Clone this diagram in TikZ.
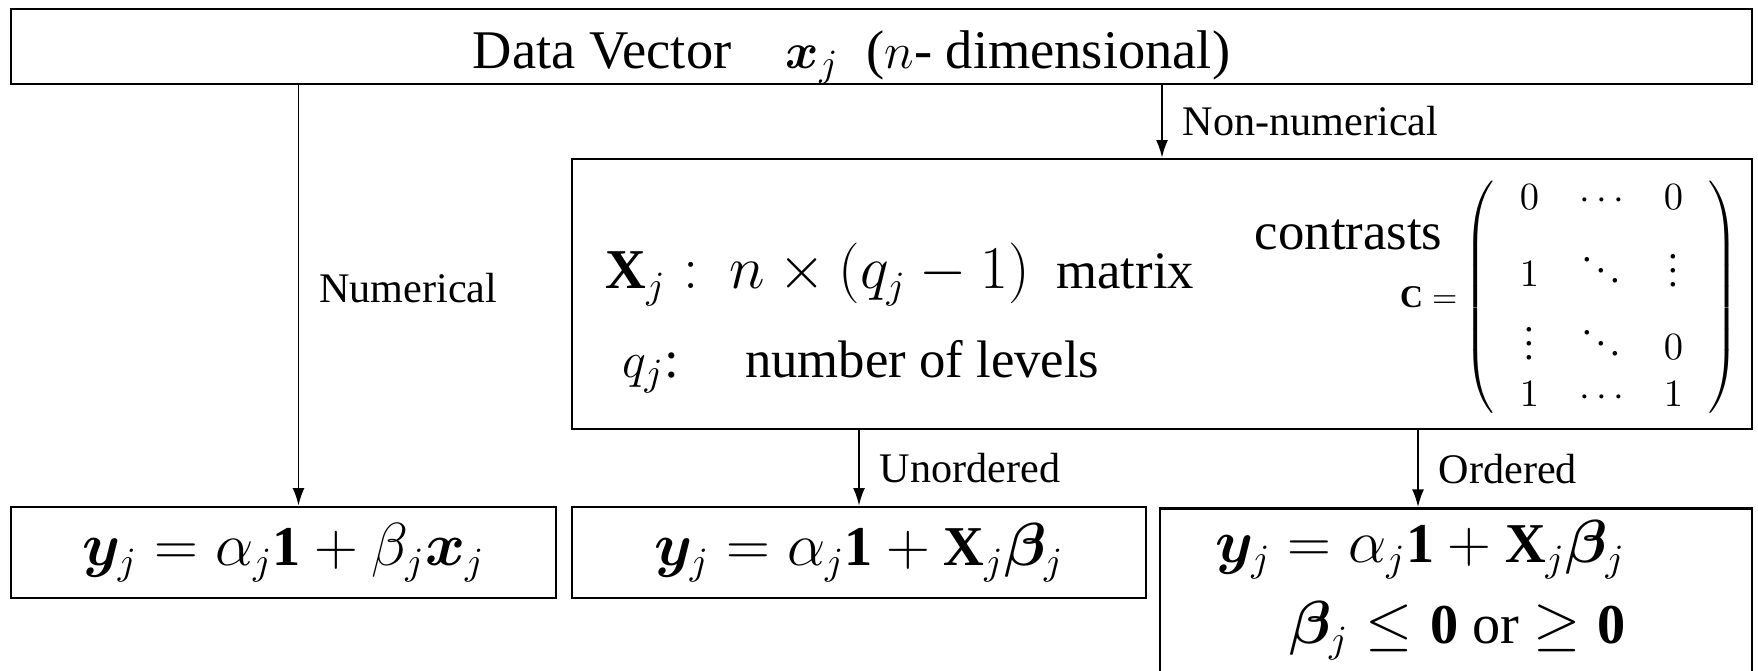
\documentclass[tikz,border=0pt]{standalone}
\usepackage{amsmath,bm}
\usepackage{fontspec}
\setmainfont{Liberation Serif}
\usetikzlibrary{arrows.meta, calc, positioning, matrix}

\begin{document}
\begin{tikzpicture}[x=1cm, y=-1cm,
  box/.style={draw, line width=0.8pt, inner sep=0pt, minimum width=#1},
  arr/.style={-{Latex[length=5pt, width=3.4pt]}, line width=0.5pt},
  tag/.style={right=0.2cm, inner sep=0pt, font=\fontsize{12}{14}\selectfont},
  big/.style={inner sep=0pt, font=\fontsize{15}{18}\selectfont},
  eq/.style={inner sep=0pt, font=\fontsize{16}{23}\selectfont}]
  \useasboundingbox (0,0) rectangle (17.58,6.71);
  % boxes
  \node[box=17.41cm, minimum height=0.75cm, text height=0.59cm, text depth=0.14cm,
        font=\fontsize{15.5}{18}\selectfont] (vec) at (8.815,0.465)
    {Data Vector\quad $\boldsymbol{x}_j$\enspace($n$- dimensional)\rule{0.6cm}{0pt}};
  \node[box=11.80cm, minimum height=2.70cm] (cat) at (11.62,2.94) {};
  \node[box=5.45cm, minimum height=0.91cm, eq] (num) at (2.835,5.525)
    {$\boldsymbol{y}_j = \alpha_j\mathbf{1} + \beta_j\boldsymbol{x}_j$};
  \node[box=5.74cm, minimum height=0.91cm, eq] (unord) at (8.59,5.525)
    {$\boldsymbol{y}_j = \alpha_j\mathbf{1} + \mathbf{X}_j\boldsymbol{\beta}_j$};
  \node[box=5.92cm, minimum height=1.66cm, anchor=north] (ord) at (14.56,5.07) {};
  % inside the categorical box
  \node[big, anchor=base west] (xdim) at (6.05,2.89)
    {{\fontsize{16}{19}\selectfont$\mathbf{X}_j :\ n\times(q_j-1)$}\ \ matrix};
  \node[big, anchor=base west] (lev) at (6.22,3.78) {$q_j$:\quad\ number of levels};
  \node[big, anchor=base east] (contr) at (14.43,2.50) {contrasts};
  \matrix (C) [matrix of math nodes, inner sep=0.08cm,
    nodes={inner sep=0pt, minimum width=0.45cm, minimum height=0.3cm,
           font=\fontsize{11}{13}\selectfont},
    row sep=0.17cm, column sep=0.27cm,
    left delimiter=(, right delimiter=)] at (16.015,2.975) {
    0 & \cdots & 0 \\
    1 & \ddots & \vdots \\
    \vdots & \ddots & 0 \\
    1 & \cdots & 1 \\
  };
  \node[inner sep=0pt, anchor=east, font=\fontsize{9}{11}\selectfont] (ceq) at (14.58,2.97)
    {$\mathbf{C} =$};
  % ordered model
  \node[eq, anchor=east, align=right] (ordeq) at (16.26,5.90)
    {$\boldsymbol{y}_j = \alpha_j\mathbf{1} + \mathbf{X}_j\boldsymbol{\beta}_j$\\
     $\boldsymbol{\beta}_j \le \mathbf{0}$ or $\ge \mathbf{0}$};
  % arrows
  \draw[arr] ([xshift=0.15cm]vec.south -| num.north) -- ([xshift=0.15cm]num.north)
    node[tag, midway, yshift=0.07cm] {Numerical};
  \draw[arr] (vec.south -| cat.north) -- (cat.north)
    node[tag, midway] {Non-numerical};
  \draw[arr] (cat.south -| unord.north) -- (unord.north)
    node[tag, midway] {Unordered};
  \draw[arr] ([xshift=-0.38cm]cat.south -| ord.north) -- ([xshift=-0.38cm]ord.north)
    node[tag, midway] {Ordered};
\end{tikzpicture}
\end{document}
